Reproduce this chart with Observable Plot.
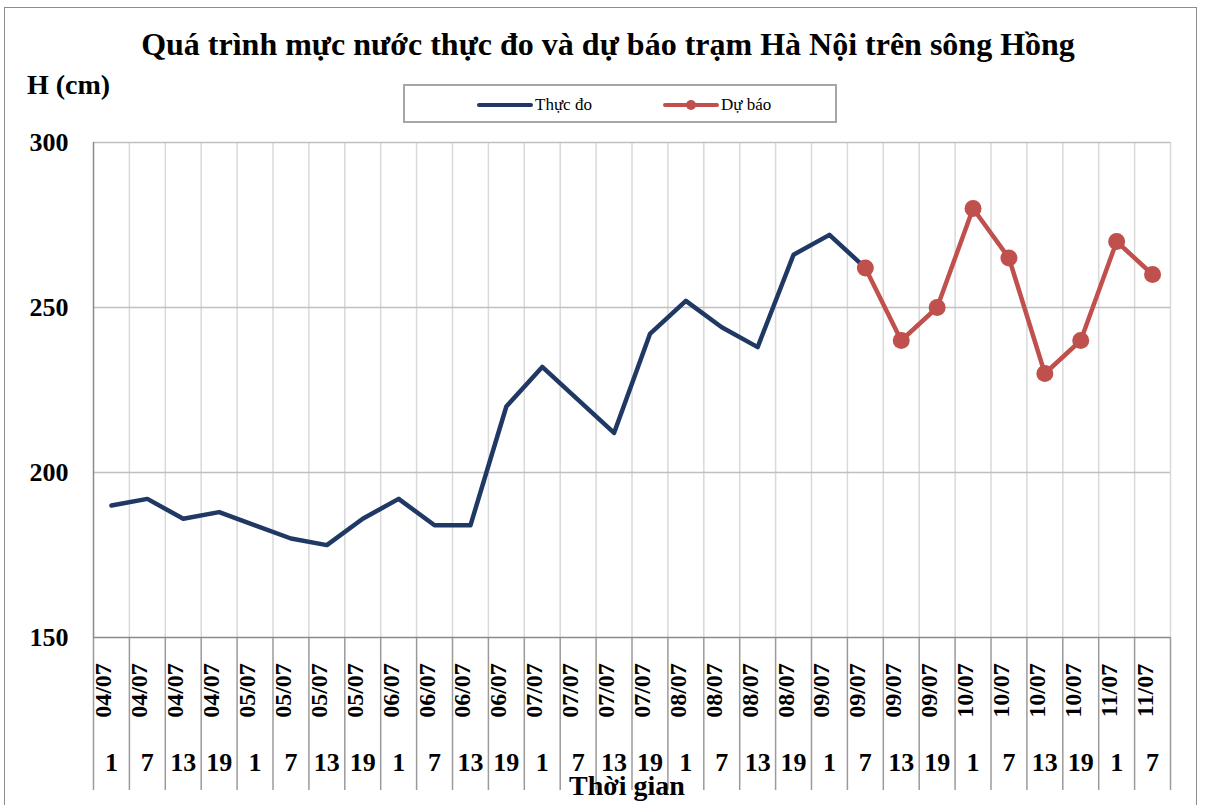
<!DOCTYPE html>
<html><head><meta charset="utf-8">
<script src="https://cdn.jsdelivr.net/npm/d3@7"></script>
<script src="https://cdn.jsdelivr.net/npm/@observablehq/plot@0.6"></script>
<style>
body{margin:0;background:#fff;overflow:hidden}
#wrap{position:relative;width:1208px;height:805px;font-family:"Liberation Serif","Times New Roman",serif;color:#000}
#frame{position:absolute;left:4px;top:7px;width:1193px;height:830px;border:1.5px solid #8c8c8c;box-sizing:border-box;pointer-events:none}
#chart{position:absolute;left:0;top:0}
#title{position:absolute;left:0;width:1216px;top:26px;text-align:center;font-weight:bold;font-size:32px;line-height:36px;white-space:nowrap}
#hlabel{position:absolute;left:27px;top:70px;font-weight:bold;font-size:28px;line-height:30px}
#legend{position:absolute;left:403px;top:84px;width:434px;height:39px;border:2px solid #a6a6a6;box-sizing:border-box;background:#fff;font-size:17px}
#legend .item{position:absolute;top:0;height:37px;display:flex;align-items:center}
#xlabel{position:absolute;left:0;width:1254px;top:771px;text-align:center;font-weight:bold;font-size:28px;line-height:30px}
</style></head>
<body>
<div id="wrap">
  <div id="chart"></div>
  <div id="title">Quá trình mực nước thực đo và dự báo trạm Hà Nội trên sông Hồng</div>
  <div id="hlabel">H (cm)</div>
  <div id="legend"></div>
  <div id="xlabel">Thời gian</div>
  <div id="frame"></div>
</div>
<script>
const dates = ["04/07","04/07","04/07","04/07","05/07","05/07","05/07","05/07",
  "06/07","06/07","06/07","06/07","07/07","07/07","07/07","07/07",
  "08/07","08/07","08/07","08/07","09/07","09/07","09/07","09/07",
  "10/07","10/07","10/07","10/07","11/07","11/07"];
const hours = ["1","7","13","19","1","7","13","19","1","7","13","19","1","7","13","19",
  "1","7","13","19","1","7","13","19","1","7","13","19","1","7"];
const measured = [190,192,186,188,184,180,178,186,192,184,184,220,232,222,212,242,252,244,238,266,272,262];
const forecastStart = 21;
const forecast = [262,240,250,280,265,230,240,270,260];
const yTicks = [150,200,250,300];
const seriesNames = ["Thực đo","Dự báo"];
const colors = ["#1f3864","#c0504d"];

const n = dates.length;
const measuredData = measured.map((v,i)=>({x:i+0.5, v}));
const forecastData = forecast.map((v,i)=>({x:forecastStart+i+0.5, v}));
const bounds = d3.range(0, n+1);

const W = 1208, H = 805, mT = 142, mB = 168, mL = 93, mR = 38;
const plotH = H - mT - mB;

const chart = Plot.plot({
  width: W, height: H,
  marginTop: mT, marginBottom: mB, marginLeft: mL, marginRight: mR,
  style: {fontFamily: '"Liberation Serif","Times New Roman",serif', fontSize: "24px", fontWeight: "bold", color: "#000", background: "transparent"},
  x: {domain: [0, n], axis: null},
  y: {domain: [150, 300]},
  marks: [
    Plot.ruleX(bounds.slice(1), {stroke: "#d9d9d9", strokeWidth: 1.5}),
    Plot.ruleY(yTicks.slice(1), {stroke: "#c0c0c0", strokeWidth: 1.5}),
    Plot.ruleX(bounds, {stroke: "#9a9a9a", strokeWidth: 1.5, insetTop: plotH, insetBottom: -153}),
    Plot.ruleX([0], {stroke: "#8a8a8a", strokeWidth: 1.5}),
    Plot.ruleY([150], {stroke: "#8a8a8a", strokeWidth: 1.5}),
    Plot.axisY({ticks: yTicks, tickSize: 0, tickPadding: 25, label: null, fontSize: 26, fontWeight: "bold"}),
    Plot.text(dates, {x: (d,i)=>i+0.5, frameAnchor: "bottom", dy: 53, rotate: -90, fontSize: 24, fontWeight: "bold", fill: "#000"}),
    Plot.text(hours, {x: (d,i)=>i+0.5, frameAnchor: "bottom", dy: 133, fontSize: 26, fontWeight: "bold", fill: "#000"}),
    Plot.line(measuredData, {x: "x", y: "v", stroke: colors[0], strokeWidth: 4.5, strokeLinejoin: "round"}),
    Plot.line(forecastData, {x: "x", y: "v", stroke: colors[1], strokeWidth: 4.5, strokeLinejoin: "round"}),
    Plot.dot(forecastData, {x: "x", y: "v", r: 8.5, fill: colors[1]})
  ]
});
document.getElementById("chart").appendChild(chart);

// legend
const legend = document.getElementById("legend");
const items = [
  {name: seriesNames[0], color: colors[0], dot: false, left: 71},
  {name: seriesNames[1], color: colors[1], dot: true, left: 257}
];
for (const it of items) {
  const div = document.createElement("div");
  div.className = "item";
  div.style.left = it.left + "px";
  div.innerHTML = `<svg width="58" height="14"><line x1="3" y1="7" x2="55" y2="7" stroke="${it.color}" stroke-width="4" stroke-linecap="round"/>${it.dot ? `<circle cx="29" cy="7" r="5" fill="${it.color}"/>` : ""}</svg><span style="margin-left:1px">${it.name}</span>`;
  legend.appendChild(div);
}
</script>
</body></html>
